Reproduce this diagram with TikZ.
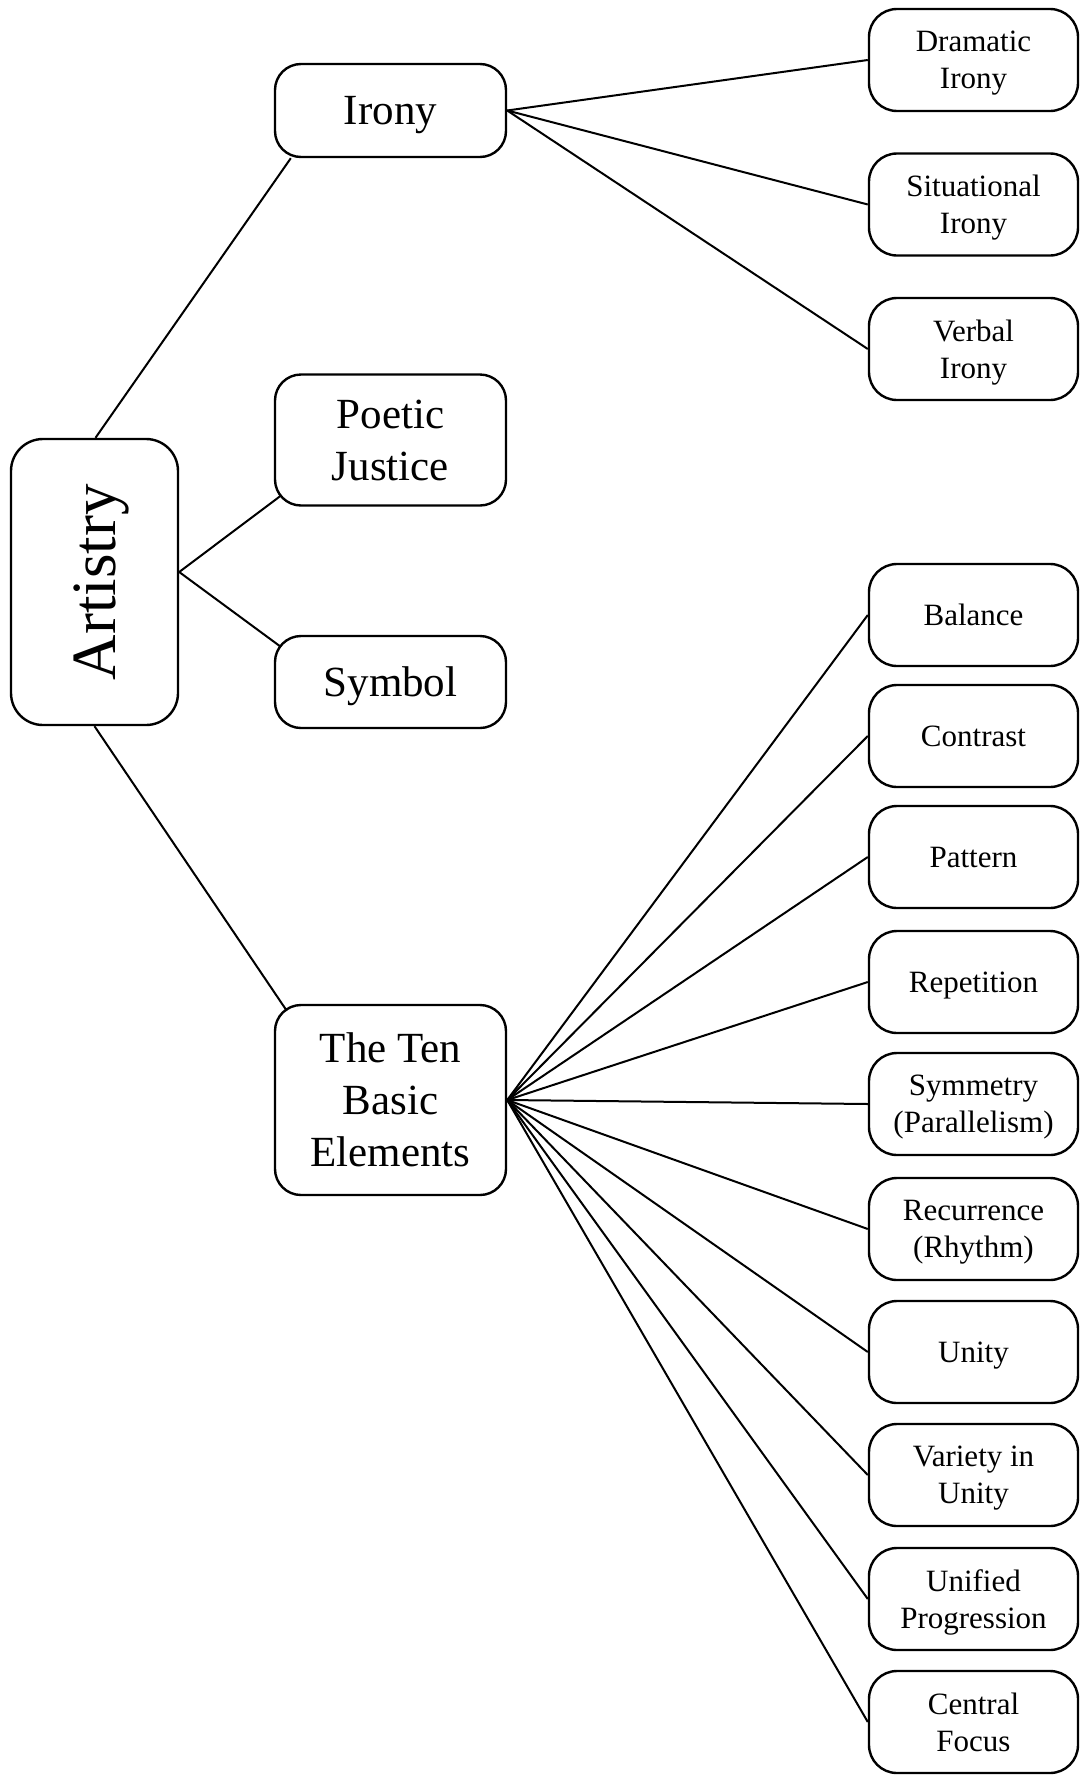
\documentclass[tikz,border=0pt]{standalone}
\usepackage{fontspec}
\setmainfont{Liberation Serif}
\usetikzlibrary{calc}
\tikzset{
  box/.style={draw, line width=2.4pt, rounded corners=26pt, inner sep=0pt, align=center, text depth=0pt},
  midbox/.style={box, minimum width=231pt, font=\fontsize{43}{52}\selectfont},
  leaf/.style={box, minimum width=209pt, minimum height=102pt, rounded corners=28pt, font=\fontsize{31}{37}\selectfont},
  link/.style={line width=2pt},
}
\begin{document}
\begin{tikzpicture}[x=1pt,y=-1pt]
\useasboundingbox (0,0) rectangle (1083,1775);
% root
\node[box, rounded corners=32pt, minimum width=167pt, minimum height=286pt, font=\fontsize{63}{70}\selectfont] (art) at (94.5,582) {\rotatebox{90}{\raisebox{0pt}[\height][0pt]{Artistry}}};
% second level
\node[midbox, minimum height=93pt] (irony) at (390.5,110.5) {Irony};
\node[midbox, minimum height=131pt] (poetic) at (390.5,440) {Poetic\\Justice};
\node[midbox, minimum height=92pt] (symbol) at (390.5,682) {Symbol};
\node[midbox, minimum height=190pt] (ten) at (390.5,1100) {The Ten\\Basic\\Elements};
% irony leaves
\node[leaf] (dram) at (973.5,60) {Dramatic\\Irony};
\node[leaf] (situ) at (973.5,204.5) {Situational\\Irony};
\node[leaf] (verb) at (973.5,349) {Verbal\\Irony};
% element leaves
\node[leaf] (bal) at (973.5,615) {Balance};
\node[leaf] (con) at (973.5,736) {Contrast};
\node[leaf] (pat) at (973.5,857) {Pattern};
\node[leaf] (rep) at (973.5,982) {Repetition};
\node[leaf] (sym) at (973.5,1104) {Symmetry\\(Parallelism)};
\node[leaf] (rec) at (973.5,1229) {Recurrence\\(Rhythm)};
\node[leaf] (uni) at (973.5,1352) {Unity};
\node[leaf] (var) at (973.5,1475) {Variety in\\Unity};
\node[leaf] (upr) at (973.5,1599) {Unified\\Progression};
\node[leaf] (cen) at (973.5,1722) {Central\\Focus};
% connectors from root
\coordinate (artr) at ($(art.east)+(0,-10)$);
\draw[link] ($(art.north)+(1,0)$) -- ($(irony.south west)+(17,0)$);
\draw[link] (artr) -- ($(poetic.south west)+(7,-11)$);
\draw[link] (artr) -- ($(symbol.north west)+(7,12)$);
\draw[link] (art.south) -- ($(ten.north west)+(13,7)$);
% irony fan
\foreach \n in {dram,situ,verb} \draw[link] (irony.east) -- (\n.west);
% elements fan
\foreach \n in {bal,con,pat,rep,sym,rec,uni,var,upr,cen} \draw[link] (ten.east) -- (\n.west);
\end{tikzpicture}
\end{document}
